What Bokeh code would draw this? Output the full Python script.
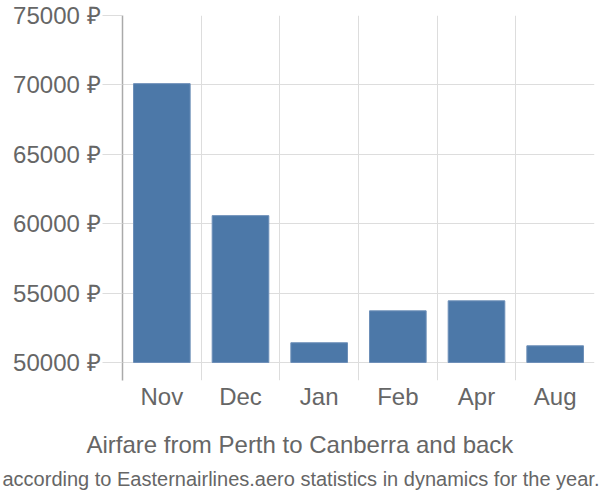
from bokeh.plotting import figure
from bokeh.models import FixedTicker, Title, ColumnDataSource
from bokeh.embed import file_html
from bokeh.resources import INLINE

months = ["Nov", "Dec", "Jan", "Feb", "Apr", "Aug"]
prices = [70090, 60580, 51420, 53720, 54440, 51200]
y_ticks = [50000, 55000, 60000, 65000, 70000, 75000]
title_text = "Airfare from Perth to Canberra and back"
subtitle_text = "according to Easternairlines.aero statistics in dynamics for the year."

positions = [i + 0.5 for i in range(len(months))]
src = ColumnDataSource(dict(x=positions, top=prices, bottom=[y_ticks[0]] * len(prices)))

p = figure(width=600, height=500, output_backend="svg", toolbar_location=None,
           x_range=(0, len(months)), y_range=(48700, 75000),
           min_border_left=122, min_border_right=6, min_border_top=15, min_border_bottom=120)
p.outline_line_color = None
p.background_fill_color = "white"

p.vbar(x="x", top="top", bottom="bottom", width=0.72, source=src,
       fill_color="#4c78a8", line_color="#6d8fb8", line_width=1)

font = "'Liberation Sans', Arial, sans-serif"
label_color = "#666666"

# y axis
p.yaxis.ticker = FixedTicker(ticks=y_ticks)
p.yaxis.major_label_overrides = {v: f"{v} ₽" for v in y_ticks}
p.yaxis.major_label_text_font = font
p.yaxis.major_label_text_font_size = "24px"
p.yaxis.major_label_text_color = label_color
p.yaxis.axis_line_color = "#aaaaaa"
p.yaxis.axis_line_width = 1.5
p.yaxis.major_tick_out = 20
p.yaxis.major_tick_in = 0
p.yaxis.major_tick_line_color = "#dddddd"
p.yaxis.minor_tick_line_color = None
p.yaxis.major_label_standoff = 2

# x axis
p.xaxis.ticker = FixedTicker(ticks=positions)
p.xaxis.major_label_overrides = {pos: m for pos, m in zip(positions, months)}
p.xaxis.major_label_text_font = font
p.xaxis.major_label_text_font_size = "24px"
p.xaxis.major_label_text_color = label_color
p.xaxis.axis_line_color = None
p.xaxis.major_tick_line_color = None
p.xaxis.minor_tick_line_color = None
p.xaxis.major_label_standoff = -4

# grids
p.ygrid.ticker = FixedTicker(ticks=y_ticks)
p.ygrid.grid_line_color = "#dddddd"
p.xgrid.ticker = FixedTicker(ticks=list(range(len(months) + 1)))
p.xgrid.grid_line_color = "#dddddd"

p.add_layout(Title(text=title_text, align="left", offset=-36, text_font=font,
                   text_font_size="24px", text_font_style="normal",
                   text_color=label_color, standoff=32), "below")
p.add_layout(Title(text=subtitle_text, align="left", offset=-120,
                   text_font=font,
                   text_font_size="20px", text_font_style="normal",
                   text_color=label_color, standoff=-16), "below")

open("out.html", "w").write(file_html(p, INLINE))
